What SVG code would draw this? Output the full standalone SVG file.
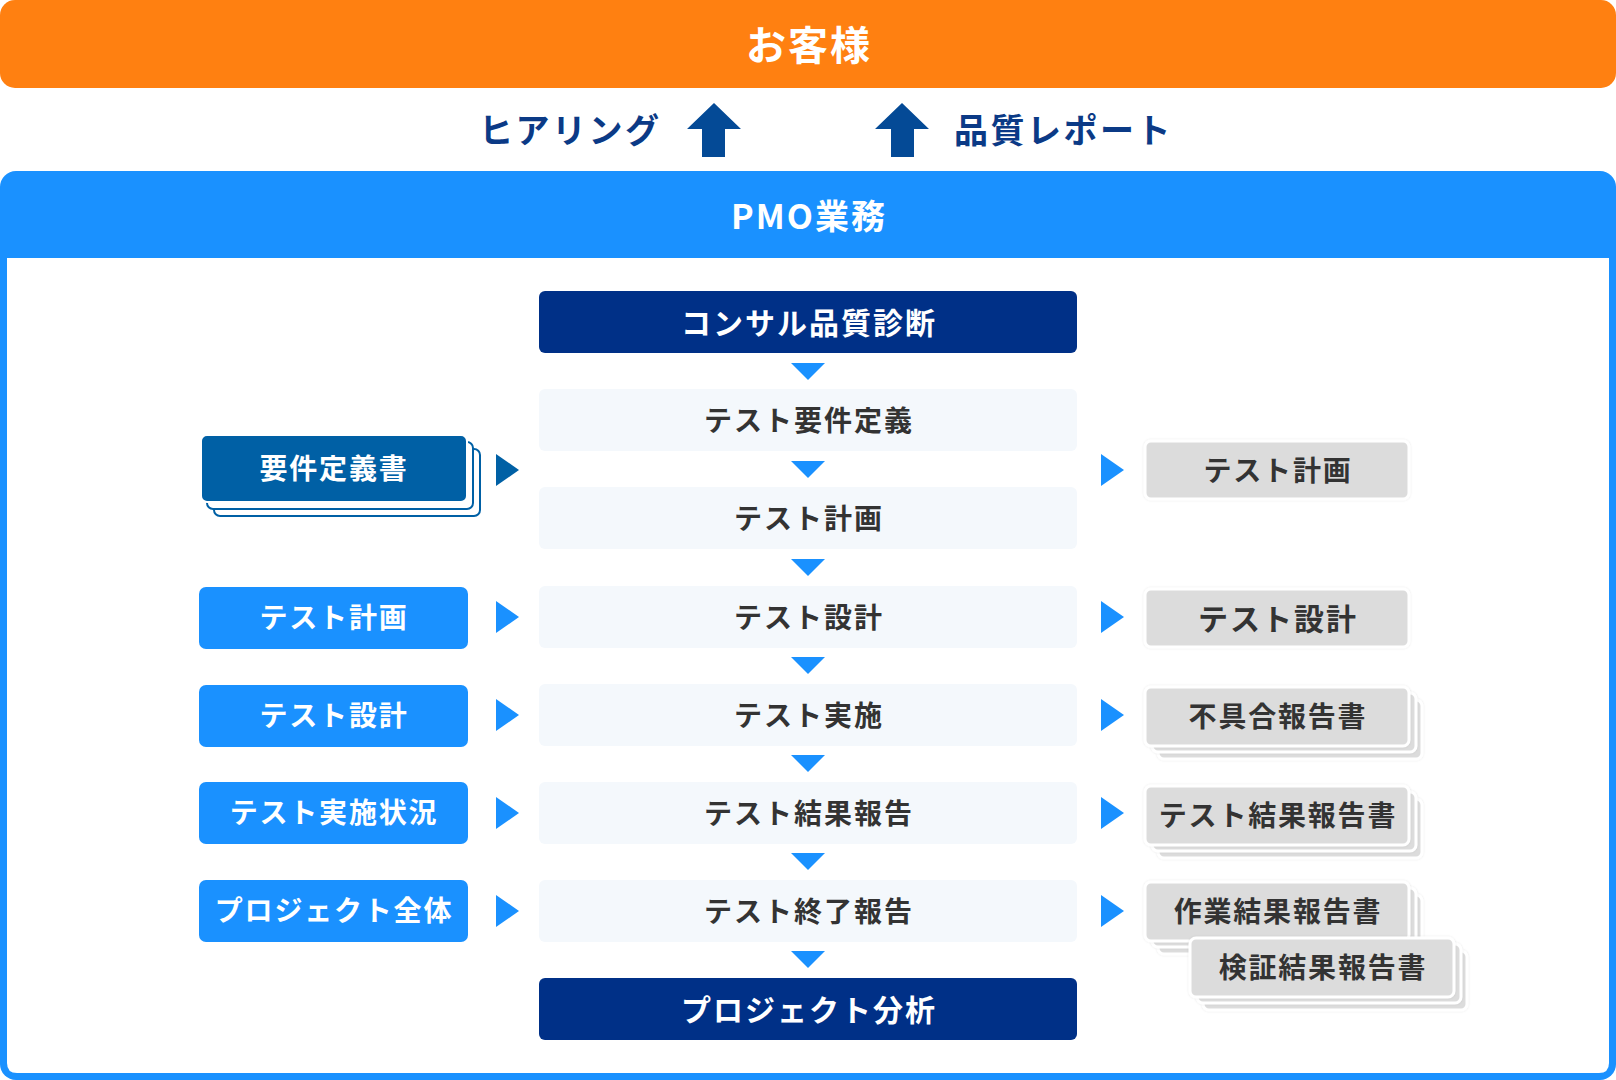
<svg xmlns="http://www.w3.org/2000/svg" width="1616" height="1080" viewBox="0 0 1616 1080">
<defs>
<style>
.t{font-family:"Noto Sans CJK JP","Noto Sans",sans-serif;font-weight:700;dominant-baseline:central;text-anchor:middle}
.wt{fill:#fff}
.dk{fill:#333}
.nv{fill:#0b3a86}
.ctr{fill:#f4f8fc}
.nav{fill:#003087}
.lb{fill:#1a91ff}
.mb{fill:#0060a5;stroke:#fff;stroke-width:2}
.lay{fill:#fff;stroke:#0060a5;stroke-width:2}
.gr{fill:#dcdcdc;stroke:#fff;stroke-width:3;filter:url(#halo)}
.tri{fill:#1a91ff}
.up{fill:#044a96}
.box{font-size:28px;letter-spacing:2px}
.side{font-size:28px;letter-spacing:1.8px}
</style>
<filter id="halo" x="-5%" y="-10%" width="110%" height="120%">
<feDropShadow dx="0" dy="0" stdDeviation="1.2" flood-color="#000" flood-opacity="0.10"/>
</filter>
</defs>
<rect width="1616" height="1080" fill="#fff"/>

<g id="customer">
<rect x="0" y="0" width="1616" height="88" rx="15" fill="#ff8011"/>
<text class="t wt" x="809" y="43" font-size="40" letter-spacing="2">お客様</text>
</g>

<g id="pmo-frame">
<rect x="0" y="171" width="1616" height="909" rx="16" fill="#1a91ff"/>
<path d="M7 258 H1609 V1063 Q1609 1073 1599 1073 H17 Q7 1073 7 1063 Z" fill="#fff"/>
<text class="t wt" x="809" y="214" font-size="34" letter-spacing="2">PMO業務</text>
</g>

<g id="labels">
<text class="t nv" x="479" y="128" font-size="34" letter-spacing="2.5" style="text-anchor:start">ヒアリング</text>
<text class="t nv" x="954" y="128" font-size="34" letter-spacing="2.5" style="text-anchor:start">品質レポート</text>
</g>

<g id="connectors">
<polygon class="up" points="714,103 741,129 725,129 725,157 702,157 702,129 687,129"/>
<polygon class="up" points="902,103 929,129 914,129 914,157 891,157 891,129 875,129"/>
<polygon class="tri" points="791,363 825,363 808,380"/>
<polygon class="tri" points="791,461 825,461 808,478"/>
<polygon class="tri" points="791,559 825,559 808,576"/>
<polygon class="tri" points="791,657 825,657 808,674"/>
<polygon class="tri" points="791,755 825,755 808,772"/>
<polygon class="tri" points="791,853 825,853 808,870"/>
<polygon class="tri" points="791,951 825,951 808,968"/>
<polygon fill="#0060a5" points="496,454 519,470 496,486"/>
<polygon class="tri" points="496,601 519,617 496,633"/>
<polygon class="tri" points="496,699 519,715 496,731"/>
<polygon class="tri" points="496,797 519,813 496,829"/>
<polygon class="tri" points="496,895 519,911 496,927"/>
<polygon class="tri" points="1101,454 1124,470 1101,486"/>
<polygon class="tri" points="1101,601 1124,617 1101,633"/>
<polygon class="tri" points="1101,699 1124,715 1101,731"/>
<polygon class="tri" points="1101,797 1124,813 1101,829"/>
<polygon class="tri" points="1101,895 1124,911 1101,927"/>
</g>

<g id="c-consul">
<rect class="nav" x="539" y="291" width="538" height="62" rx="6"/>
<text class="t wt" x="809" y="321" font-size="30" letter-spacing="2">コンサル品質診断</text>
</g>
<g id="c-req">
<rect class="ctr" x="539" y="389" width="538" height="62" rx="6"/>
<text class="t dk box" x="809" y="419">テスト要件定義</text>
</g>
<g id="c-plan">
<rect class="ctr" x="539" y="487" width="538" height="62" rx="6"/>
<text class="t dk box" x="809" y="517">テスト計画</text>
</g>
<g id="c-design">
<rect class="ctr" x="539" y="586" width="538" height="62" rx="6"/>
<text class="t dk box" x="809" y="616">テスト設計</text>
</g>
<g id="c-exec">
<rect class="ctr" x="539" y="684" width="538" height="62" rx="6"/>
<text class="t dk box" x="809" y="714">テスト実施</text>
</g>
<g id="c-result">
<rect class="ctr" x="539" y="782" width="538" height="62" rx="6"/>
<text class="t dk box" x="809" y="812">テスト結果報告</text>
</g>
<g id="c-end">
<rect class="ctr" x="539" y="880" width="538" height="62" rx="6"/>
<text class="t dk box" x="809" y="910">テスト終了報告</text>
</g>
<g id="c-analysis">
<rect class="nav" x="539" y="978" width="538" height="62" rx="6"/>
<text class="t wt" x="809" y="1008" font-size="30" letter-spacing="2">プロジェクト分析</text>
</g>

<g id="l-reqdoc">
<rect class="lay" x="214" y="449" width="266" height="67" rx="6"/>
<rect class="lay" x="207" y="442" width="266" height="67" rx="6"/>
<rect class="mb" x="201" y="435" width="266" height="67" rx="6"/>
<text class="t wt side" x="334" y="467">要件定義書</text>
</g>
<g id="l-plan">
<rect class="lb" x="199" y="587" width="269" height="62" rx="7"/>
<text class="t wt side" x="334" y="616">テスト計画</text>
</g>
<g id="l-design">
<rect class="lb" x="199" y="685" width="269" height="62" rx="7"/>
<text class="t wt side" x="334" y="714">テスト設計</text>
</g>
<g id="l-status">
<rect class="lb" x="199" y="782" width="269" height="62" rx="7"/>
<text class="t wt side" x="334" y="811">テスト実施状況</text>
</g>
<g id="l-project">
<rect class="lb" x="199" y="880" width="269" height="62" rx="7"/>
<text class="t wt side" x="334" y="909">プロジェクト全体</text>
</g>

<g id="r-plan">
<rect class="gr" x="1145" y="441" width="264" height="58" rx="6"/>
<text class="t dk side" x="1278" y="469">テスト計画</text>
</g>
<g id="r-design">
<rect class="gr" x="1145" y="589" width="264" height="58" rx="6"/>
<text class="t dk" x="1278" y="617" font-size="30" letter-spacing="2">テスト設計</text>
</g>
<g id="r-defect">
<rect class="gr" x="1158" y="700" width="264" height="59" rx="6"/>
<rect class="gr" x="1152" y="693" width="264" height="59" rx="6"/>
<rect class="gr" x="1145" y="687" width="264" height="59" rx="6"/>
<text class="t dk side" x="1278" y="715">不具合報告書</text>
</g>
<g id="r-result">
<rect class="gr" x="1158" y="799" width="264" height="59" rx="6"/>
<rect class="gr" x="1152" y="792" width="264" height="59" rx="6"/>
<rect class="gr" x="1145" y="786" width="264" height="59" rx="6"/>
<text class="t dk side" x="1278" y="814">テスト結果報告書</text>
</g>
<g id="r-work">
<rect class="gr" x="1158" y="895" width="264" height="59" rx="6"/>
<rect class="gr" x="1152" y="888" width="264" height="59" rx="6"/>
<rect class="gr" x="1145" y="882" width="264" height="59" rx="6"/>
<text class="t dk side" x="1278" y="910">作業結果報告書</text>
</g>
<g id="r-verify">
<rect class="gr" x="1203" y="951" width="264" height="59" rx="6"/>
<rect class="gr" x="1197" y="944" width="264" height="59" rx="6"/>
<rect class="gr" x="1190" y="938" width="264" height="59" rx="6"/>
<text class="t dk side" x="1323" y="966">検証結果報告書</text>
</g>
</svg>
